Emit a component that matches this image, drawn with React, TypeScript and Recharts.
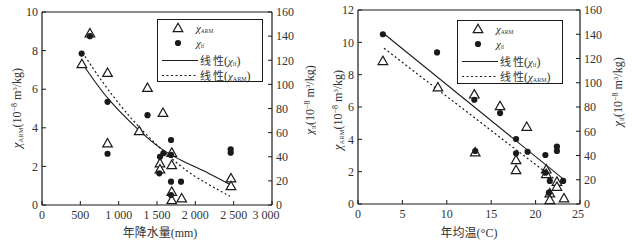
import { ComposedChart, Scatter, Line, XAxis, YAxis, ReferenceLine, Legend } from 'recharts'

// 左图：年降水量 (mm)
const rainArmX = [520, 625, 855, 855, 1268, 1376, 1578, 1539, 1539, 1692, 1692, 1692, 1692, 1822, 2465, 2465]
const rainArmY = [7.3, 8.9, 6.85, 3.2, 3.83, 6.07, 4.78, 2.16, 1.85, 2.71, 2.07, 0.69, 0.26, 0.35, 1.38, 0.98]
const rainLfX = [517, 625, 855, 855, 1376, 1539, 1583, 1530, 1683, 1683, 1683, 1813, 1683, 2461, 2461]
const rainLfY = [125.5, 140, 85.5, 42.5, 74.5, 40, 42.9, 26.3, 53.9, 41.5, 19.3, 19.3, 8.3, 46.2, 43.4]
const rainLfFitX = [525, 865, 1278, 1539, 1839, 2191, 2452]
const rainLfFitY = [117.4, 86, 61, 46.5, 36, 26, 17]
const rainArmFitX = [530, 734, 1191, 1843, 2148, 2452]
const rainArmFitY = [7.9, 6.65, 4.23, 1.81, 1.12, 0.45]
const rainTicks = [0, 500, 1000, 1500, 2000, 2500, 3000]

// 右图：年均温 (°C)
const tempArmX = [2.8, 9.0, 13.1, 13.2, 16.0, 17.8, 17.8, 19.0, 21.2, 21.2, 21.6, 21.6, 22.4, 22.4, 23.2]
const tempArmY = [8.85, 7.22, 6.78, 3.2, 6.06, 2.72, 2.1, 4.78, 2.14, 1.86, 0.66, 0.25, 1.38, 1.07, 0.35]
const tempLfX = [2.8, 8.9, 13.1, 13.2, 16.0, 17.8, 17.8, 19.1, 21.1, 21.1, 21.6, 21.5, 22.4, 22.4, 23.1]
const tempLfY = [140, 125, 86, 43.7, 75, 53.6, 41.8, 43.1, 40.4, 25.8, 19, 9.3, 47.3, 43.7, 19]
const tempLfFitX = [2.85, 23.1]
const tempLfFitY = [140.8, 20.7]
const tempArmFitX = [2.93, 22.7]
const tempArmFitY = [9.63, 1.3]
const tempTicks = [0, 5, 10, 15, 20, 25]

const armTicksRain = [0, 2, 4, 6, 8, 10]
const armTicksTemp = [0, 2, 4, 6, 8, 10, 12]
const lfTicks = [0, 20, 40, 60, 80, 100, 120, 140, 160]

const SERIF = "'Liberation Serif', 'Times New Roman', serif"
const CJK = "'Liberation Serif', 'Noto Sans CJK SC', sans-serif"
const INK = '#333'
const LINE = '#1a1a1a'

const zip = (xs: number[], ys: number[]) => xs.map((x, i) => ({ x, y: ys[i] }))

const fmtThousands = (v: number) =>
  v >= 1000 ? `${Math.floor(v / 1000)} ${String(v % 1000).padStart(3, '0')}` : String(v)

const OpenTriangle = (props: any) => {
  const { cx, cy } = props
  if (cx == null || cy == null) return null
  return (
    <path
      d={`M${cx},${cy - 4.8} L${cx + 4.8},${cy + 3.6} L${cx - 4.8},${cy + 3.6} Z`}
      fill="#fff"
      stroke={LINE}
      strokeWidth={1.2}
    />
  )
}

const BlackDot = (props: any) => {
  const { cx, cy } = props
  if (cx == null || cy == null) return null
  return <circle cx={cx} cy={cy} r={3.1} fill={LINE} />
}

// x 轴刻度，最后一个稍微左移
const makeXTick = (fmt: (v: number) => string, lastValue: number, lastShift: number) => (props: any) => {
  const { x, y, payload } = props
  const v = payload.value
  return (
    <text x={v === lastValue ? x + lastShift : x} y={y} dy={18} textAnchor="middle" fill={INK} fontFamily={SERIF} fontSize={12}>
      {fmt(v)}
    </text>
  )
}

function YTitle({ x, y, sub }: { x: number; y: number; sub: string }) {
  return (
    <text x={x} y={y} transform={`rotate(-90 ${x} ${y})`} textAnchor="middle" fill={INK} fontFamily={SERIF} fontSize={12}>
      <tspan fontStyle="italic" fontSize={13}>χ</tspan>
      <tspan fontSize={6.5} dy={2}>{sub}</tspan>
      <tspan dy={-2}>(10</tspan>
      <tspan fontSize={8} dy={-4}>−8</tspan>
      <tspan dy={4}> m</tspan>
      <tspan fontSize={7} dy={-4}>3</tspan>
      <tspan dy={4}>/kg)</tspan>
    </text>
  )
}

function FitText({ x, y, sub }: { x: number; y: number; sub: string }) {
  return (
    <text x={x} y={y} fill={INK} fontFamily={CJK} fontSize={11}>
      线<tspan dx={2}>性</tspan>
      <tspan fontFamily={SERIF} fontSize={12}>(</tspan>
      <tspan fontStyle="italic" fontFamily={SERIF} fontSize={11}>χ</tspan>
      <tspan fontSize={6} dy={1} fontFamily={SERIF}>{sub}</tspan>
      <tspan dy={-1} fontFamily={SERIF} fontSize={12}>)</tspan>
    </text>
  )
}

function LegendBox({ w, h }: { w: number; h: number }) {
  return (
    <svg width={w} height={h} style={{ display: 'block', overflow: 'visible' }}>
      <rect x={0.5} y={0.5} width={w - 1} height={h - 1} fill="#fff" stroke={LINE} strokeWidth={1} />
      <OpenTriangle cx={21} cy={9} />
      <text x={39} y={13} fill={INK} fontFamily={SERIF} fontSize={10}>
        <tspan fontStyle="italic" fontSize={11}>χ</tspan>
        <tspan fontSize={5.5} dy={1}>ARM</tspan>
      </text>
      <BlackDot cx={21} cy={24} />
      <text x={39} y={28} fill={INK} fontFamily={SERIF} fontSize={10}>
        <tspan fontStyle="italic" fontSize={11}>χ</tspan>
        <tspan fontSize={5.5} dy={1}>lf</tspan>
      </text>
      <line x1={5} x2={41} y1={41.5} y2={41.5} stroke={LINE} strokeWidth={1.1} />
      <FitText x={43} y={45.5} sub="lf" />
      <line x1={5} x2={41} y1={56.5} y2={56.5} stroke={LINE} strokeWidth={1.1} strokeDasharray="2 2.5" />
      <FitText x={43} y={60.5} sub="ARM" />
    </svg>
  )
}

interface PanelProps {
  left: number
  xTicks: number[]
  xFormat: (v: number) => string
  xLastShift: number
  xTitle: string
  xTitleX: number
  armTicks: number[]
  armData: { x: number; y: number }[]
  lfData: { x: number; y: number }[]
  lfFit: { x: number; y: number }[]
  armFit: { x: number; y: number }[]
  curve: 'basis' | 'linear'
  margin: { top: number; right: number; bottom: number; left: number }
  legendPos: { left: number; top: number; width: number; height: number }
  titles: { leftX: number; leftY: number; rightX: number; rightY: number }
}

function Panel(p: PanelProps) {
  const tickStyle = { fontSize: 12, fill: INK, fontFamily: SERIF }
  const xMax = p.xTicks[p.xTicks.length - 1]
  const armMax = p.armTicks[p.armTicks.length - 1]
  return (
    <div style={{ position: 'absolute', left: p.left, top: 0, width: 316, height: 244 }}>
      <ComposedChart width={316} height={244} margin={p.margin}>
        <XAxis
          type="number"
          dataKey="x"
          domain={[0, xMax]}
          ticks={p.xTicks}
          interval={0}
          height={25}
          tickSize={-4}
          tickMargin={0}
          axisLine={{ stroke: LINE, strokeWidth: 1.2 }}
          tickLine={{ stroke: LINE }}
          tick={makeXTick(p.xFormat, xMax, p.xLastShift)}
          label={{
            content: () => (
              <text x={p.xTitleX} y={237} textAnchor="middle" fill={INK} fontFamily={CJK} fontSize={12}>
                {p.xTitle}
              </text>
            ),
          }}
        />
        <YAxis
          yAxisId="left"
          type="number"
          domain={[0, armMax]}
          ticks={p.armTicks}
          interval={0}
          width={30}
          tickSize={-4}
          tickMargin={8}
          axisLine={{ stroke: LINE, strokeWidth: 1.2 }}
          tickLine={{ stroke: LINE }}
          tick={tickStyle}
          label={{ content: () => <YTitle x={p.titles.leftX} y={p.titles.leftY} sub="ARM" /> }}
        />
        <YAxis
          yAxisId="right"
          orientation="right"
          type="number"
          domain={[0, 160]}
          ticks={lfTicks}
          interval={0}
          width={30}
          tickSize={-4}
          tickMargin={8}
          axisLine={{ stroke: LINE, strokeWidth: 1.2 }}
          tickLine={{ stroke: LINE }}
          tick={tickStyle}
          label={{ content: () => <YTitle x={p.titles.rightX} y={p.titles.rightY} sub="lf" /> }}
        />
        <ReferenceLine yAxisId="left" y={armMax} stroke={LINE} strokeWidth={1.2} />
        <Line
          yAxisId="right"
          data={p.lfFit}
          dataKey="y"
          type={p.curve}
          stroke={LINE}
          strokeWidth={1.1}
          dot={false}
          activeDot={false}
          isAnimationActive={false}
        />
        <Line
          yAxisId="left"
          data={p.armFit}
          dataKey="y"
          type={p.curve}
          stroke={LINE}
          strokeWidth={1.2}
          strokeDasharray="2 2.5"
          dot={false}
          activeDot={false}
          isAnimationActive={false}
        />
        <Scatter yAxisId="left" data={p.armData} dataKey="y" shape={OpenTriangle} isAnimationActive={false} />
        <Scatter yAxisId="right" data={p.lfData} dataKey="y" shape={BlackDot} isAnimationActive={false} />
        <Legend
          layout="vertical"
          verticalAlign="middle"
          align="center"
          wrapperStyle={{ ...p.legendPos, position: 'absolute' }}
          content={() => <LegendBox w={p.legendPos.width} h={p.legendPos.height} />}
        />
      </ComposedChart>
    </div>
  )
}

export default function App() {
  return (
    <div style={{ position: 'absolute', left: 0, top: 0, width: 632, height: 244, background: '#fff', overflow: 'hidden' }}>
      <Panel
        left={0}
        xTicks={rainTicks}
        xFormat={fmtThousands}
        xLastShift={-6}
        xTitle="年降水量(mm)"
        xTitleX={160}
        armTicks={armTicksRain}
        armData={zip(rainArmX, rainArmY)}
        lfData={zip(rainLfX, rainLfY)}
        lfFit={zip(rainLfFitX, rainLfFitY)}
        armFit={zip(rainArmFitX, rainArmFitY)}
        curve="basis"
        margin={{ top: 12, right: 14, bottom: 14, left: 12 }}
        legendPos={{ left: 157, top: 19, width: 106, height: 63 }}
        titles={{ leftX: 21, leftY: 108, rightX: 314, rightY: 100 }}
      />
      <Panel
        left={316}
        xTicks={tempTicks}
        xFormat={(v: number) => String(v)}
        xLastShift={-2}
        xTitle="年均温(°C)"
        xTitleX={153}
        armTicks={armTicksTemp}
        armData={zip(tempArmX, tempArmY)}
        lfData={zip(tempLfX, tempLfY)}
        lfFit={zip(tempLfFitX, tempLfFitY)}
        armFit={zip(tempArmFitX, tempArmFitY)}
        curve="linear"
        margin={{ top: 10, right: 22, bottom: 15, left: 12 }}
        legendPos={{ left: 141, top: 20, width: 106, height: 64 }}
        titles={{ leftX: 26, leftY: 110, rightX: 306, rightY: 92 }}
      />
    </div>
  )
}
